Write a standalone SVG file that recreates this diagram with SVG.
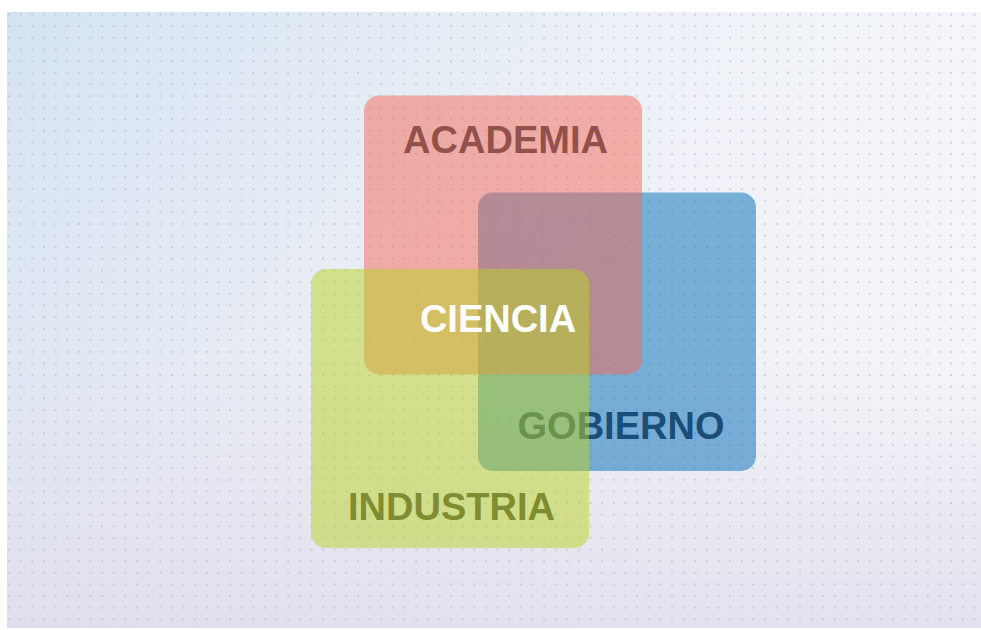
<svg xmlns="http://www.w3.org/2000/svg" width="981" height="630" viewBox="0 0 981 630">
  <defs>
    <linearGradient id="bgBase" x1="0" y1="0" x2="1" y2="0.55">
      <stop offset="0" stop-color="#D4E3F2"/>
      <stop offset="0.5" stop-color="#EDF1F7"/>
      <stop offset="1" stop-color="#F9FAFC"/>
    </linearGradient>
    <linearGradient id="bgShade" x1="0" y1="0" x2="0" y2="1">
      <stop offset="0" stop-color="#DCD9EA" stop-opacity="0"/>
      <stop offset="0.55" stop-color="#DCD9EA" stop-opacity="0.15"/>
      <stop offset="1" stop-color="#DCD9EA" stop-opacity="0.75"/>
    </linearGradient>
    <pattern id="dots" x="3.2" y="8.7" width="11.63" height="11.63" patternUnits="userSpaceOnUse">
      <rect x="5.1" y="5.1" width="1.6" height="1.6" fill="#A9AEBC" fill-opacity="0.75"/>
    </pattern>
    <style>
      .box { fill-opacity: 0.5; }
      .lbl { font-family: "Liberation Sans", Arial, Helvetica, sans-serif; font-weight: bold; font-size: 38px; text-anchor: middle; }
    </style>
  </defs>

  <g id="background">
    <rect x="0" y="0" width="981" height="630" fill="#FFFFFF"/>
    <rect x="7" y="12" width="974" height="616" fill="url(#bgBase)"/>
    <rect x="7" y="12" width="974" height="616" fill="url(#bgShade)"/>
    <rect x="7" y="12" width="974" height="616" fill="url(#dots)"/>
  </g>

  <g id="gobierno">
    <rect class="box" x="478" y="192.5" width="278" height="278.5" rx="15" fill="#006BB5"/>
    <text class="lbl" x="621" y="438.5" fill="#1A4E78">GOBIERNO</text>
  </g>

  <g id="academia">
    <rect class="box" x="364" y="95.5" width="278" height="279" rx="15" fill="#F36755"/>
    <text class="lbl" x="505.5" y="152.5" fill="#93514C">ACADEMIA</text>
  </g>

  <g id="industria">
    <rect class="box" x="311" y="269" width="278" height="279" rx="15" fill="#B9D422"/>
    <text class="lbl" x="451.5" y="520" fill="#7F8C31">INDUSTRIA</text>
  </g>

  <g id="ciencia">
    <text class="lbl" x="498" y="332" fill="#FFFFFF">CIENCIA</text>
  </g>

  <g id="connectors"/>
</svg>
